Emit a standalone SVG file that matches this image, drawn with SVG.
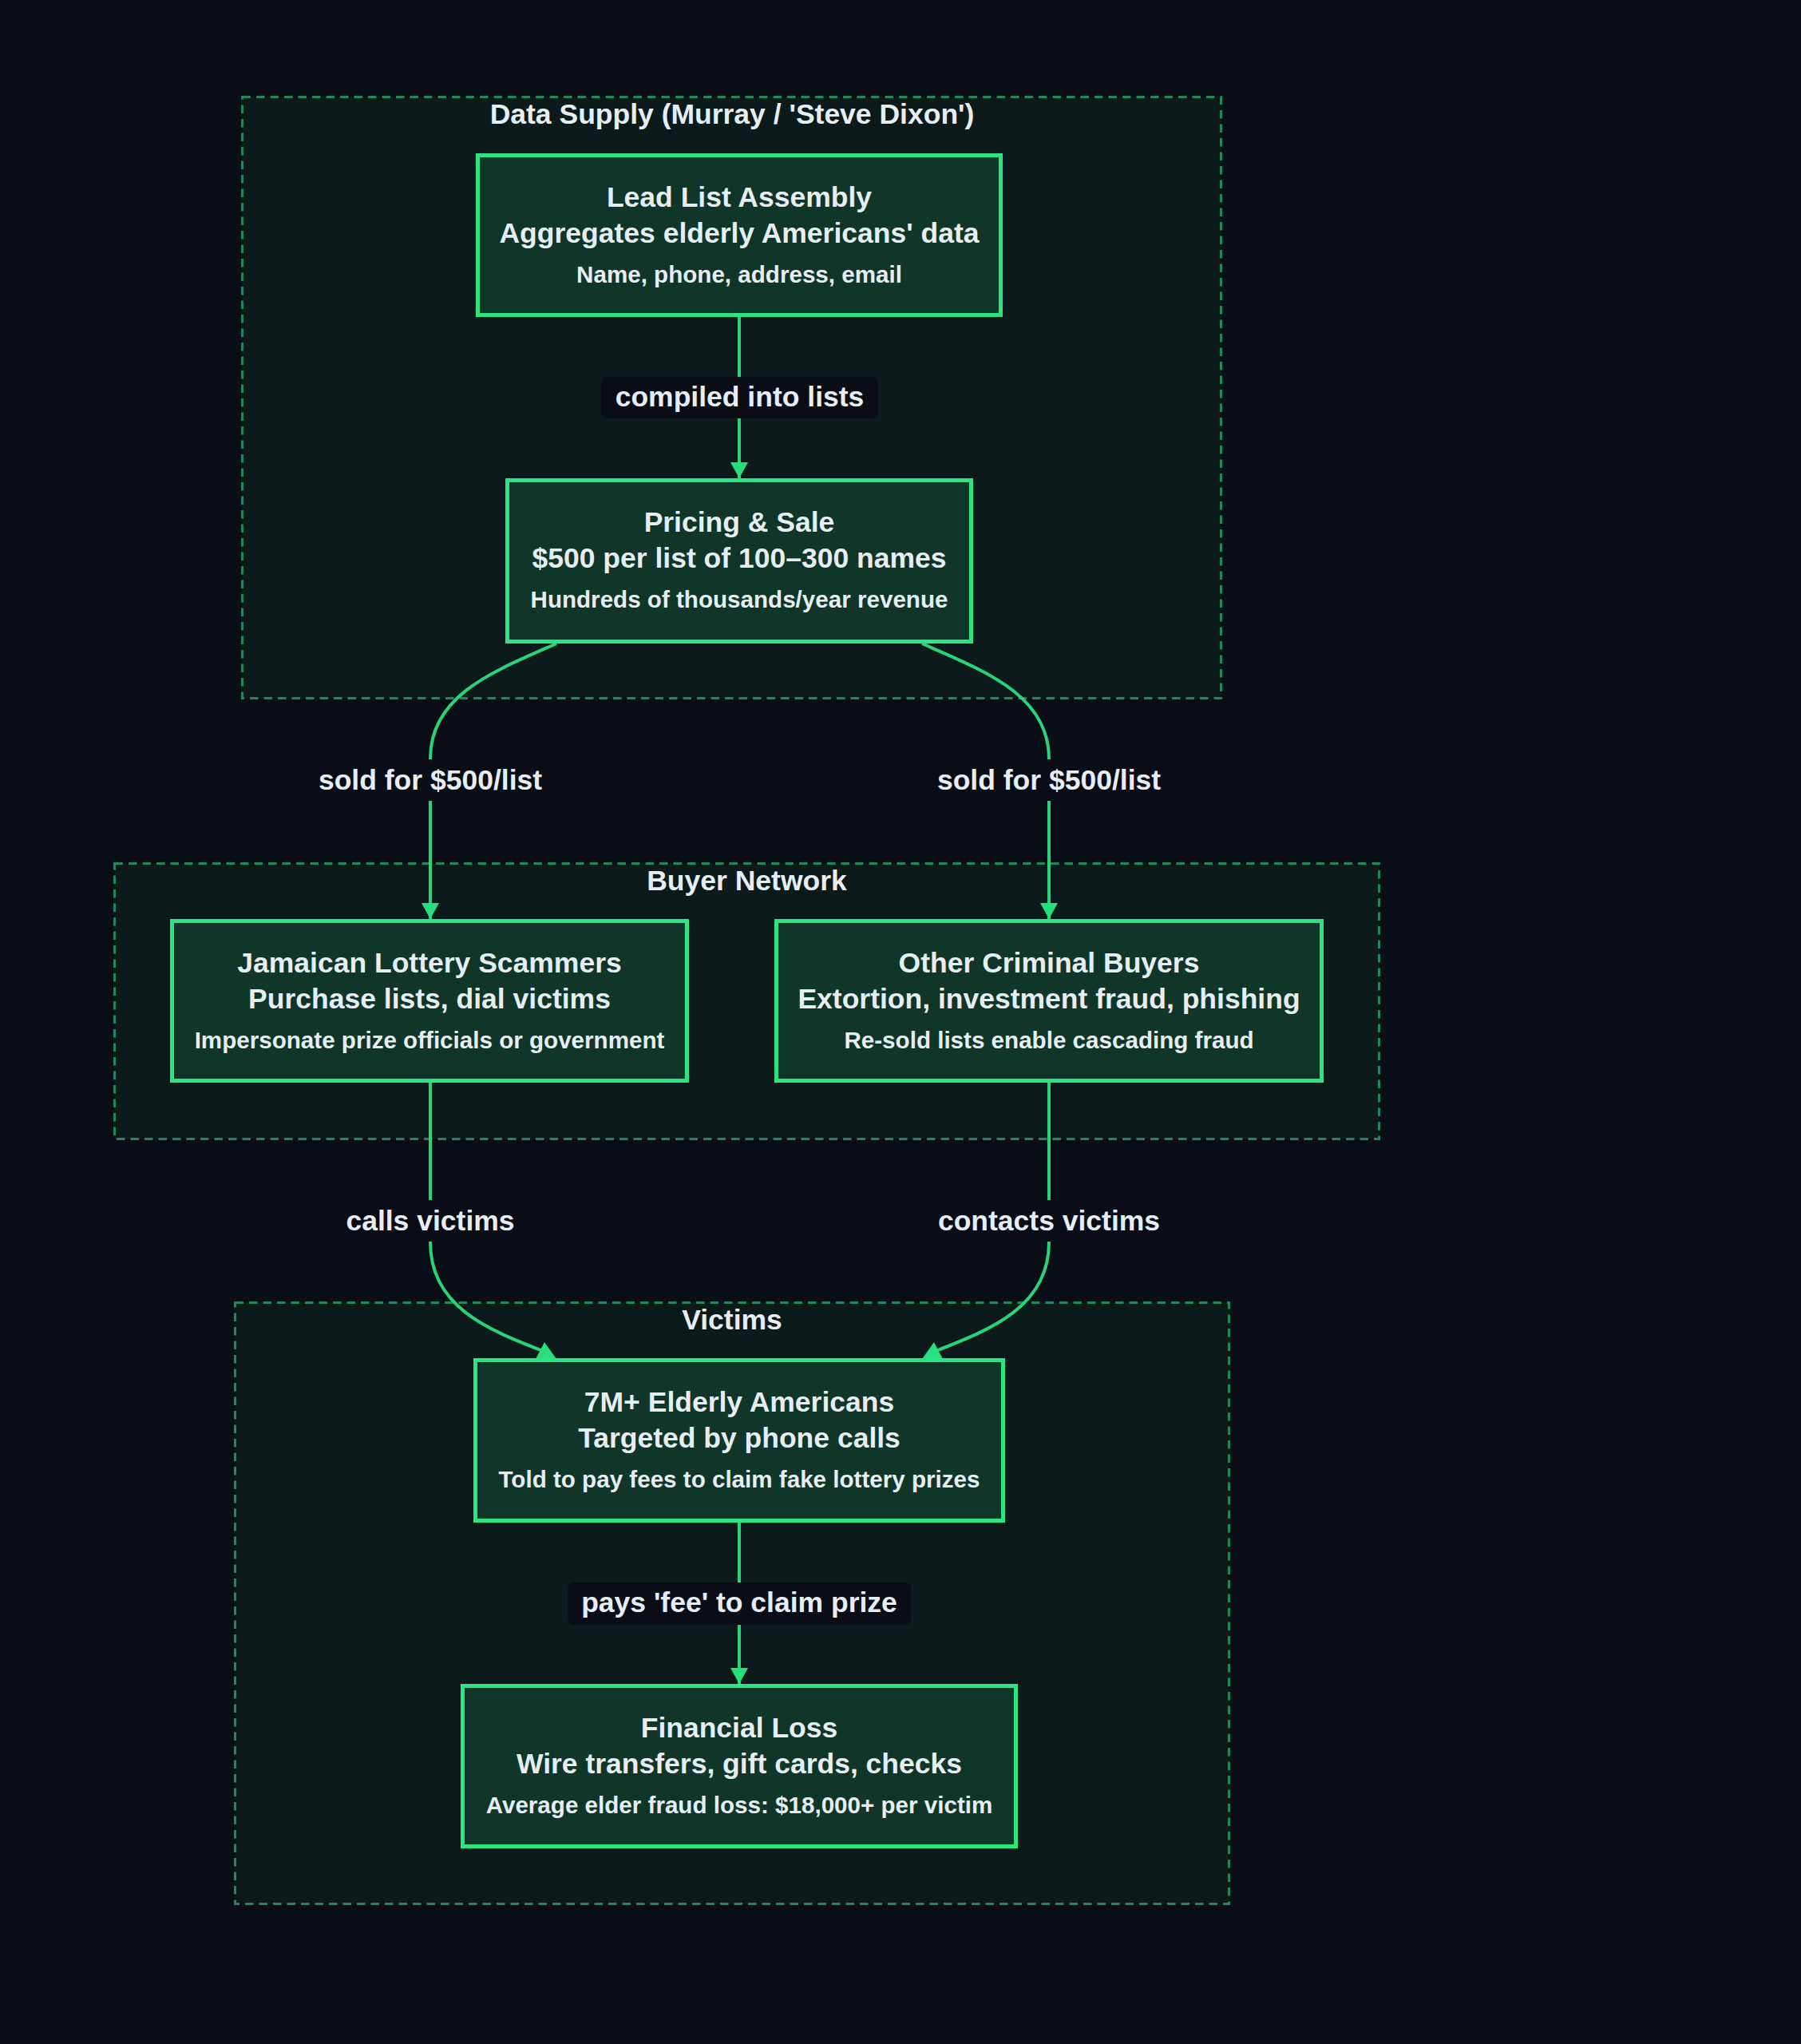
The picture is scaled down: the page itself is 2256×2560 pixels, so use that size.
<svg xmlns="http://www.w3.org/2000/svg" width="2256" height="2560" viewBox="0 0 2256 2560">
<style>
.bg{fill:#0a0e17}
.cluster rect{fill:#0c1a1c;stroke:#1e8a55;stroke-width:3;stroke-dasharray:10.5 7}
.ctitle{font-family:"Liberation Sans",Arial,sans-serif;font-weight:bold;font-size:35.5px;fill:#e6edf3;text-anchor:middle}
.node rect{fill:#0f3628;stroke:#2de580;stroke-width:5}
.t1{font-family:"Liberation Sans",Arial,sans-serif;font-weight:bold;font-size:35.5px;fill:#e6edf3;text-anchor:middle}
.t2{font-family:"Liberation Sans",Arial,sans-serif;font-weight:bold;font-size:29.6px;fill:#e6edf3;text-anchor:middle}
.edge{fill:none;stroke:#27d477;stroke-width:4}
.head{fill:#27e07c}
.lbl rect{fill:#0a0d16}
.lbl text{font-family:"Liberation Sans",Arial,sans-serif;font-weight:bold;font-size:35.5px;fill:#e6edf3;text-anchor:middle}
</style>
<defs>
<marker id="arrow" viewBox="0 0 20 22" refX="20" refY="11" markerWidth="20" markerHeight="22" markerUnits="userSpaceOnUse" orient="auto">
<path d="M0,0 L20,11 L0,22 z" class="head"/>
</marker>
</defs>
<rect class="bg" x="0" y="0" width="2256" height="2560"/>

<g id="cluster-data-supply" class="cluster">
<rect x="303.5" y="121.5" width="1226" height="753"/>
<text class="ctitle" x="917" y="155">Data Supply (Murray / 'Steve Dixon')</text>
</g>
<g id="cluster-buyer-network" class="cluster">
<rect x="143.5" y="1081.5" width="1584" height="345"/>
<text class="ctitle" x="935.5" y="1115">Buyer Network</text>
</g>
<g id="cluster-victims" class="cluster">
<rect x="294.5" y="1631.5" width="1245" height="753"/>
<text class="ctitle" x="917" y="1665">Victims</text>
</g>

<g id="connectors">
<path class="edge" d="M926,397 L926,599" marker-end="url(#arrow)"/>
<path class="edge" d="M697,806 C620,840 539,870 539,950 L539,1151" marker-end="url(#arrow)"/>
<path class="edge" d="M1155,806 C1232,840 1314,870 1314,950 L1314,1151" marker-end="url(#arrow)"/>
<path class="edge" d="M539,1356 L539,1556 C539,1636 610,1665 680,1692"/>
<polygon class="head" points="682,1681 671,1702 697,1702"/>
<path class="edge" d="M1314,1356 L1314,1556 C1314,1636 1242,1665 1172,1692"/>
<polygon class="head" points="1170,1681 1181,1702 1155,1702"/>
<path class="edge" d="M926,1907 L926,2109" marker-end="url(#arrow)"/>
<g class="lbl">
<rect x="753" y="472" width="347" height="52" rx="8"/>
<text x="926.5" y="509">compiled into lists</text>
<rect x="380" y="951" width="318" height="52" rx="8"/>
<text x="539" y="989">sold for $500/list</text>
<rect x="1155" y="951" width="318" height="52" rx="8"/>
<text x="1314" y="989">sold for $500/list</text>
<rect x="414" y="1503" width="250" height="52" rx="8"/>
<text x="539" y="1541">calls victims</text>
<rect x="1156.5" y="1503" width="315" height="52" rx="8"/>
<text x="1314" y="1541">contacts victims</text>
<rect x="711" y="1982" width="430" height="53" rx="8"/>
<text x="926" y="2019">pays 'fee' to claim prize</text>
</g>
</g>

<g id="node-lead-list" class="node">
<rect x="598.5" y="194.5" width="655" height="200"/>
<text class="t1" x="926" y="259">Lead List Assembly</text>
<text class="t1" x="926" y="304">Aggregates elderly Americans' data</text>
<text class="t2" x="926" y="354">Name, phone, address, email</text>
</g>
<g id="node-pricing" class="node">
<rect x="635.5" y="601.5" width="581" height="202"/>
<text class="t1" x="926" y="666">Pricing &amp; Sale</text>
<text class="t1" x="926" y="711">$500 per list of 100–300 names</text>
<text class="t2" x="926" y="761">Hundreds of thousands/year revenue</text>
</g>
<g id="node-jamaican" class="node">
<rect x="215.5" y="1153.5" width="645" height="200"/>
<text class="t1" x="538" y="1218">Jamaican Lottery Scammers</text>
<text class="t1" x="538" y="1263">Purchase lists, dial victims</text>
<text class="t2" x="538" y="1313">Impersonate prize officials or government</text>
</g>
<g id="node-other-buyers" class="node">
<rect x="972.5" y="1153.5" width="683" height="200"/>
<text class="t1" x="1314" y="1218">Other Criminal Buyers</text>
<text class="t1" x="1314" y="1263">Extortion, investment fraud, phishing</text>
<text class="t2" x="1314" y="1313">Re-sold lists enable cascading fraud</text>
</g>
<g id="node-elderly" class="node">
<rect x="595.5" y="1703.5" width="661" height="201"/>
<text class="t1" x="926" y="1768">7M+ Elderly Americans</text>
<text class="t1" x="926" y="1813">Targeted by phone calls</text>
<text class="t2" x="926" y="1863">Told to pay fees to claim fake lottery prizes</text>
</g>
<g id="node-financial-loss" class="node">
<rect x="579.5" y="2111.5" width="693" height="201"/>
<text class="t1" x="926" y="2176">Financial Loss</text>
<text class="t1" x="926" y="2221">Wire transfers, gift cards, checks</text>
<text class="t2" x="926" y="2271">Average elder fraud loss: $18,000+ per victim</text>
</g>
</svg>
